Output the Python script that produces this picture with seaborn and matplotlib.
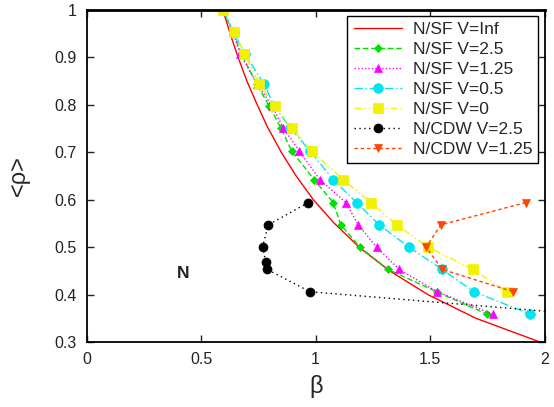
import matplotlib
matplotlib.use("Agg")
import matplotlib.pyplot as plt
import seaborn as sns
import pandas as pd

# ---- data ----
inf_beta = [0.595, 0.626, 0.660, 0.700, 0.745, 0.790, 0.850, 0.915, 0.990, 1.080, 1.190, 1.320, 1.490, 1.700, 1.980]
inf_rho = [1.000, 0.951, 0.902, 0.850, 0.800, 0.753, 0.700, 0.650, 0.600, 0.551, 0.500, 0.451, 0.400, 0.350, 0.300]

rho_sf = [1.000, 0.953, 0.908, 0.844, 0.797, 0.751, 0.703, 0.642, 0.594, 0.547, 0.500, 0.453, 0.406, 0.359]
v25_beta = [0.594, 0.640, 0.675, 0.742, 0.798, 0.848, 0.895, 0.994, 1.077, 1.110, 1.193, 1.317, 1.528, 1.747]
v125_beta = [0.594, 0.640, 0.669, 0.745, 0.810, 0.859, 0.928, 1.019, 1.132, 1.186, 1.266, 1.365, 1.531, 1.773]
v05_beta = [0.594, 0.643, 0.690, 0.774, 0.820, 0.890, 0.975, 1.077, 1.179, 1.278, 1.407, 1.553, 1.691, 1.936]
v0_beta = [0.594, 0.645, 0.688, 0.754, 0.822, 0.895, 0.983, 1.121, 1.241, 1.354, 1.492, 1.688, 1.834]
v0_rho = [1.000, 0.953, 0.908, 0.844, 0.797, 0.751, 0.703, 0.642, 0.594, 0.547, 0.500, 0.453, 0.406]

cdw25_beta = [0.968, 0.793, 0.768, 0.782, 0.789, 0.975, 2.200]
cdw25_rho = [0.594, 0.547, 0.501, 0.469, 0.453, 0.406, 0.357]
cdw125_beta = [1.918, 1.547, 1.482, 1.553, 1.863]
cdw125_rho = [0.594, 0.547, 0.500, 0.453, 0.406]

labels = ["N/SF V=Inf", "N/SF V=2.5", "N/SF V=1.25", "N/SF V=0.5",
          "N/SF V=0", "N/CDW V=2.5", "N/CDW V=1.25"]
xticks = [0, 0.5, 1, 1.5, 2]
xticklabels = ["0", "0.5", "1", "1.5", "2"]
yticks = [0.3, 0.4, 0.5, 0.6, 0.7, 0.8, 0.9, 1.0]
yticklabels = ["0.3", "0.4", "0.5", "0.6", "0.7", "0.8", "0.9", "1"]

sns.set_style("ticks")
plt.rcParams["font.family"] = ["Liberation Sans", "DejaVu Sans"]

fig = plt.figure(figsize=(5.54, 4.07), dpi=100)
ax = fig.add_axes([0.1565, 0.1597, 0.8265, 0.8157])

series = [
    (inf_beta, inf_rho, dict(color="#ff0000", marker=None, dashes=None, ms=0, lw=1.0)),
    (v25_beta, rho_sf, dict(color="#00e000", marker="D", dashes=(4, 2), ms=4.5, lw=1.0)),
    (v125_beta, rho_sf, dict(color="#ff00ff", marker="^", dashes=(1, 1.5), ms=6, lw=1.0)),
    (v05_beta, rho_sf, dict(color="#00e5f0", marker="o", dashes=(6, 2, 1, 2), ms=7, lw=1.0)),
    (v0_beta, v0_rho, dict(color="#f2f200", marker="s", dashes=(5, 2, 1, 2, 1, 2), ms=7.2, lw=1.0)),
    (cdw25_beta, cdw25_rho, dict(color="#000000", marker="o", dashes=(1, 2.5), ms=6.5, lw=1.0)),
    (cdw125_beta, cdw125_rho, dict(color="#ff4500", marker="v", dashes=(2.5, 2), ms=6, lw=1.0)),
]

for (bx, ry, st), lab in zip(series, labels):
    df = pd.DataFrame({"beta": bx, "rho": ry})
    kw = dict(color=st["color"], linewidth=st["lw"], label=lab)
    if st["marker"] is not None:
        kw.update(marker=st["marker"], markersize=st["ms"],
                  markeredgecolor=st["color"], markerfacecolor=st["color"],
                  markeredgewidth=0.5)
    sns.lineplot(data=df, x="beta", y="rho", ax=ax, sort=False,
                 estimator=None, **kw)
    line = ax.get_lines()[-1]
    if st["dashes"] is not None:
        line.set_dashes(st["dashes"])

ax.set_xlim(0, 2)
ax.set_ylim(0.3, 1.0)
ax.set_xticks(xticks)
ax.set_xticklabels(xticklabels)
ax.set_yticks(yticks)
ax.set_yticklabels(yticklabels)
ax.tick_params(direction="in", top=True, right=True, length=5, width=1,
               labelsize=11.5, colors="#222222", pad=7)
for s in ax.spines.values():
    s.set_linewidth(1.3)
    s.set_color("black")
ax.spines["top"].set_linewidth(2.0)

ax.set_xlabel("β", fontsize=17, labelpad=6)
ax.set_ylabel("<ρ>", fontsize=17, labelpad=18)
ax.text(0.42, 0.445, "N", fontsize=12.5, fontweight="bold", ha="center",
        va="center", color="#222222")

leg = ax.legend(loc="upper right", bbox_to_anchor=(0.986, 0.982),
                borderaxespad=0, fancybox=False, framealpha=1,
                edgecolor="black", fontsize=12.5, numpoints=1,
                handlelength=2.8, handletextpad=0.6, labelspacing=0.28,
                borderpad=0.35)
leg.get_frame().set_linewidth(1.0)

fig.savefig("out.png", dpi=100)
